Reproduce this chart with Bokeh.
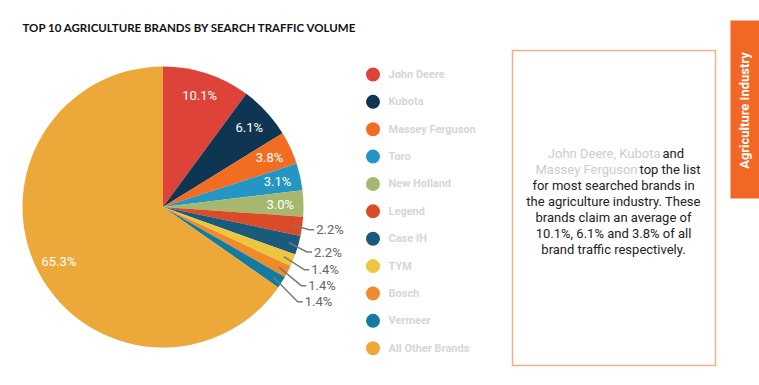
import numpy as np
from bokeh.plotting import figure
from bokeh.models import Range1d, ColumnDataSource
from bokeh.core.properties import value
from bokeh.embed import file_html
from bokeh.resources import INLINE

# ---------------- data ----------------
title = "TOP 10 AGRICULTURE BRANDS BY SEARCH TRAFFIC VOLUME"
brands = ["John Deere", "Kubota", "Massey Ferguson", "Toro", "New Holland",
          "Legend", "Case IH", "TYM", "Bosch", "Vermeer", "All Other Brands"]
shares = [10.1, 6.1, 3.8, 3.1, 3.0, 2.2, 2.2, 1.4, 1.4, 1.4, 65.3]
colors = ["#de4339", "#0e3652", "#f26d22", "#2596c4", "#a5b86d", "#dc4b28",
          "#1a5b7b", "#edc63f", "#f08a2b", "#137ba0", "#eca93a"]
tab_label = "Agriculture Industry"
blurb_first = [("John Deere, Kubota", "and"), ("Massey Ferguson", "top the list")]
blurb_rest = ["for most searched brands in",
              "the agriculture industry. These",
              "brands claim an average of",
              "10.1%, 6.1% and 3.8% of all",
              "brand traffic respectively."]

# ---------------- layout ----------------
W, H = 759, 385
def Y(sy):  # screen y -> data y
    return H - sy

p = figure(width=W, height=H, x_range=Range1d(0, W), y_range=Range1d(0, H),
           x_axis_type=None, y_axis_type=None, toolbar_location=None,
           output_backend="svg", min_border=0)
p.outline_line_color = None
p.grid.visible = False
p.background_fill_color = "white"
p.border_fill_color = "white"

# title
p.text(x=[22], y=[Y(27)], text=[title], text_font=value("Lato"),
       text_font_style="bold", text_font_size="11.5px", text_color="#111111",
       text_baseline="middle", text_align="left")

# pie
cx, cy, r = 162.5, Y(206.5), 140.5
vals = np.array(shares)
cum = np.concatenate([[0], np.cumsum(vals)]) / vals.sum()
start = np.pi / 2 - 2 * np.pi * cum[:-1]
end = np.pi / 2 - 2 * np.pi * cum[1:]
src = ColumnDataSource(dict(start=start, end=end, color=colors))
p.wedge(x=cx, y=cy, radius=r, start_angle="start", end_angle="end",
        direction="clock", fill_color="color", line_color=None, source=src)

mid = 2 * np.pi * (cum[:-1] + cum[1:]) / 2  # clockwise from top
inside = [i for i, s in enumerate(shares) if s >= 3]
outside = [i for i, s in enumerate(shares) if s < 3]

rho = 0.835 * r
p.text(x=[cx + rho * np.sin(mid[i]) for i in inside],
       y=[cy + rho * np.cos(mid[i]) for i in inside],
       text=[f"{shares[i]:.1f}%" for i in inside],
       text_font=value("Roboto"), text_font_size="13px", text_color="white",
       text_align="center", text_baseline="middle")

RY, RX = 165, 152
lab_y, lab_x = [], []
prev = None
for i in outside:
    ny = cy + RY * np.cos(mid[i])
    if prev is not None:
        ny = min(ny, prev - 16)
    prev = ny
    lab_y.append(ny)
    lab_x.append(cx + RX * np.sqrt(np.sin(mid[i])))
xs, ys = [], []
for k, i in enumerate(outside):
    sx0 = cx + 0.93 * r * np.sin(mid[i])
    sy0 = cy + 0.93 * r * np.cos(mid[i])
    xs.append([sx0, lab_x[k] - 5, lab_x[k]])
    ys.append([sy0, lab_y[k], lab_y[k]])
p.multi_line(xs=xs, ys=ys, line_color="#7a7a7a", line_width=1.5)
p.text(x=[x + 2 for x in lab_x], y=lab_y,
       text=[f"{shares[i]:.1f}%" for i in outside],
       text_font=value("Roboto"), text_font_size="13px", text_color="#666666",
       text_align="left", text_baseline="middle")

# legend
ly = [Y(74 + 27.37 * i) for i in range(len(brands))]
p.scatter(x=[372.5] * len(brands), y=ly, size=14, fill_color=colors, line_color=None)
p.text(x=[388] * len(brands), y=ly, text=brands, text_font=value("Roboto"),
       text_font_style="bold", text_font_size="11px", text_color="#d6d6d6",
       text_align="left", text_baseline="middle")

# text box
p.quad(left=[512], right=[715], top=[Y(50)], bottom=[Y(365)], fill_color=None,
       line_color="#f9ae8a", line_width=1.5)
splits = [662, 639]
for k, (grey, dark) in enumerate(blurb_first):
    yy = Y(153 + 16 * k)
    p.text(x=[splits[k] - 2], y=[yy], text=[grey], text_font=value("Roboto"),
           text_font_size="13px", text_color="#cccccc", text_align="right",
           text_baseline="middle")
    p.text(x=[splits[k]], y=[yy], text=[dark], text_font=value("Roboto"),
           text_font_size="13px", text_color="#222222", text_align="left",
           text_baseline="middle")
p.text(x=[613] * len(blurb_rest), y=[Y(185 + 16 * k) for k in range(len(blurb_rest))],
       text=blurb_rest, text_font=value("Roboto"), text_font_size="13px",
       text_color="#222222", text_align="center", text_baseline="middle")

# side tab
p.quad(left=[730], right=[W], top=[Y(20)], bottom=[Y(198)],
       fill_color="#f26724", line_color=None)
p.text(x=[744], y=[Y(110)], text=[tab_label], angle=np.pi / 2,
       text_font=value("Roboto"), text_font_style="bold", text_font_size="13px",
       text_color="white", text_align="center", text_baseline="middle")

open("out.html", "w").write(file_html(p, INLINE))
